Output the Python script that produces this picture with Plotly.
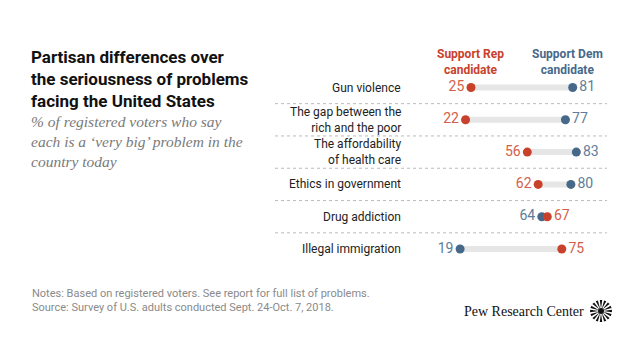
import math
import plotly.graph_objects as go

categories = ["Gun violence", "The gap between the<br>rich and the poor", "The affordability<br>of health care",
              "Ethics in government", "Drug addiction", "Illegal immigration"]
rep = [25, 22, 56, 62, 67, 75]
dem = [81, 77, 83, 80, 64, 19]

RED_DOT = "#C8412B"
RED_TXT = "#D4604A"
BLUE_DOT = "#46698A"
BLUE_TXT = "#5E7D99"
W, H = 640, 360
OX, OY = 8, 8  # page body margin offset


def px(x, y):
    return (x - OX) / W, 1 - (y - OY) / H


fig = go.Figure()
idx = list(range(len(categories)))

for i in idx:
    fig.add_trace(go.Scatter(x=[rep[i], dem[i]], y=[i, i], mode="lines",
                             line=dict(color="#E6E6E6", width=6), hoverinfo="skip", showlegend=False))

rep_pos = ["middle left" if r < d else "middle right" for r, d in zip(rep, dem)]
dem_pos = ["middle right" if d > r else "middle left" for r, d in zip(rep, dem)]

fig.add_trace(go.Scatter(x=dem, y=idx, mode="markers+text", text=[str(v) for v in dem],
                         textposition=dem_pos, marker=dict(color=BLUE_DOT, size=9),
                         textfont=dict(color=BLUE_TXT, size=14, family="Roboto"), showlegend=False))
fig.add_trace(go.Scatter(x=rep, y=idx, mode="markers+text", text=[str(v) for v in rep],
                         textposition=rep_pos, marker=dict(color=RED_DOT, size=9),
                         textfont=dict(color=RED_TXT, size=14, family="Roboto"), showlegend=False))

# row pixel geometry
top_px, step = 87.5 - OY, 32.3
y_top = -top_px / step
y_bot = (H - top_px) / step

fig.update_layout(
    width=W, height=H, margin=dict(l=0, r=0, t=0, b=0),
    paper_bgcolor="white", plot_bgcolor="white",
    xaxis=dict(domain=[(425.6 - OX) / W, (607.2 - OX) / W], range=[0, 100], visible=False),
    yaxis=dict(domain=[0, 1], range=[y_bot, y_top], visible=False),
    font=dict(family="Roboto"),
)

for i in range(len(categories) - 1):
    fig.add_shape(type="line", xref="paper", yref="y", x0=(275 - OX) / W, x1=(607 - OX) / W,
                  y0=i + 0.5, y1=i + 0.5, line=dict(color="#BBBBBB", width=1, dash="dot"))

for i, c in enumerate(categories):
    fig.add_annotation(x=(403 - OX) / W, y=i, xref="paper", yref="y", text=c, showarrow=False,
                       xanchor="right", yanchor="middle", align="right",
                       font=dict(size=12, color="#222222", family="Roboto"))

for txt, xc, col in [("Support Rep<br>candidate", 470, RED_DOT), ("Support Dem<br>candidate", 567, BLUE_DOT)]:
    ax, ay = px(xc, 62)
    fig.add_annotation(x=ax, y=ay, xref="paper", yref="paper", text="<b>" + txt + "</b>", showarrow=False,
                       xanchor="center", yanchor="middle", align="center",
                       font=dict(size=12, color=col, family="Roboto"))

ax, ay = px(29, 45)
fig.add_annotation(x=ax, y=ay, xref="paper", yref="paper",
                   text="<b>Partisan differences over<br>the seriousness of problems<br>facing the United States</b>",
                   showarrow=False, xanchor="left", yanchor="top", align="left",
                   font=dict(size=17, color="#111111", family="Roboto"))

ax, ay = px(29, 111)
fig.add_annotation(x=ax, y=ay, xref="paper", yref="paper",
                   text="<i>% of registered voters who say<br>each is a ‘very big’ problem in the<br>country today</i>",
                   showarrow=False, xanchor="left", yanchor="top", align="left",
                   font=dict(size=15.5, color="#7A7A7A", family="Liberation Serif"))

ax, ay = px(30, 285)
fig.add_annotation(x=ax, y=ay, xref="paper", yref="paper",
                   text="Notes: Based on registered voters. See report for full list of problems.<br>Source: Survey of U.S. adults conducted Sept. 24-Oct. 7, 2018.",
                   showarrow=False, xanchor="left", yanchor="top", align="left",
                   font=dict(size=11, color="#8A8A8A", family="Roboto"))

ax, ay = px(586, 311)
fig.add_annotation(x=ax, y=ay, xref="paper", yref="paper", text="Pew Research Center",
                   showarrow=False, xanchor="right", yanchor="middle",
                   font=dict(size=14, color="#111111", family="Liberation Serif"))

# sunburst logo
cx, cy, r_in, r_out, n = 601, 311, 2.0, 11.0, 16
path = ""
for k in range(n):
    a = 2 * math.pi * k / n
    da = 2 * math.pi / n * 0.28
    p0 = px(cx + r_in * math.cos(a), cy + r_in * math.sin(a))
    p1 = px(cx + r_out * math.cos(a - da), cy + r_out * math.sin(a - da))
    p2 = px(cx + r_out * math.cos(a + da), cy + r_out * math.sin(a + da))
    path += f"M{p0[0]},{p0[1]} L{p1[0]},{p1[1]} L{p2[0]},{p2[1]} Z "
fig.add_shape(type="path", xref="paper", yref="paper", path=path,
              fillcolor="#111111", line=dict(width=0))
c0 = px(cx - 3, cy - 3)
c1 = px(cx + 3, cy + 3)
fig.add_shape(type="circle", xref="paper", yref="paper", x0=c0[0], y0=c0[1], x1=c1[0], y1=c1[1],
              fillcolor="#111111", line=dict(width=0))

fig.write_html("out.html")
